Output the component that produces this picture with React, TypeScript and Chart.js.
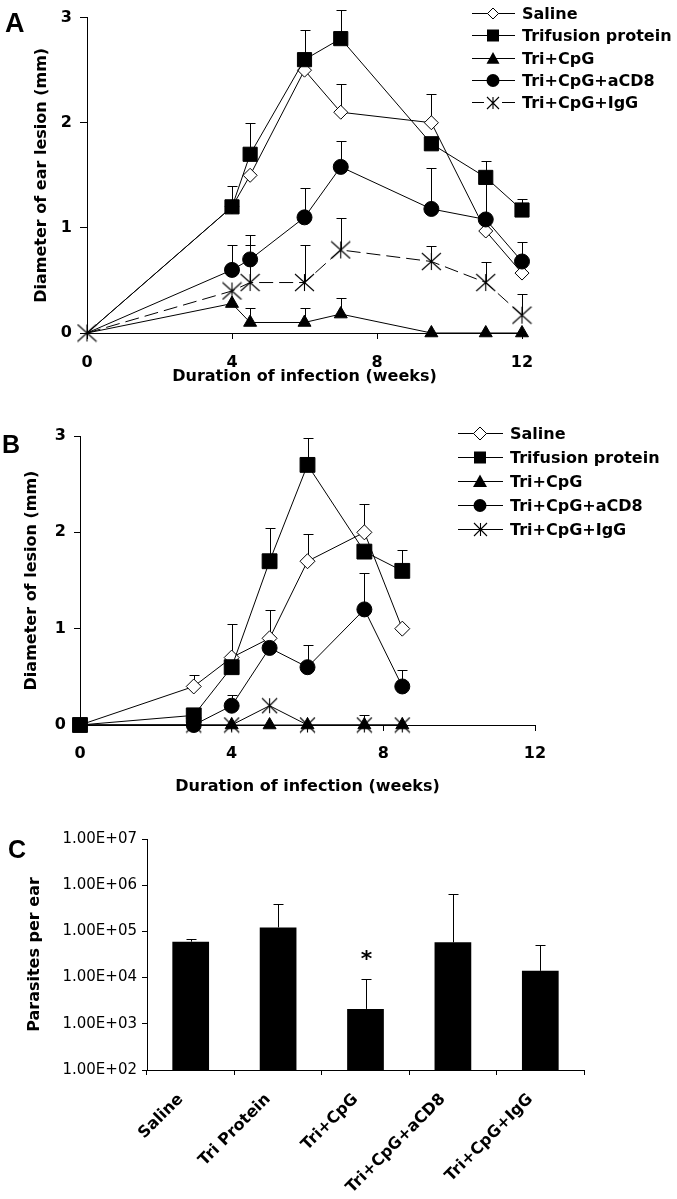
import React, { useEffect, useRef } from 'react';
import { Chart, registerables } from 'chart.js';
Chart.register(...registerables);

const FONT = 'DejaVu Sans';
const LETTER_FONT = 'Liberation Sans';

// ---------- shared ----------
const seriesLabels = ['Saline', 'Trifusion protein', 'Tri+CpG', 'Tri+CpG+aCD8', 'Tri+CpG+IgG'];
const markerKinds = ['diamond', 'square', 'triangle', 'circle', 'asterisk'];

// ---------- Panel A ----------
const aWeeks = [0, 4, 4.5, 6, 7, 9.5, 11, 12];
const aSaline = [0, 1.2, 1.5, 2.5, 2.1, 2.0, 0.97, 0.57];
const aSalineErr = [null, null, null, null, 2.37, 2.27, null, null];
const aTrifusion = [0, 1.2, 1.7, 2.6, 2.8, 1.8, 1.48, 1.17];
const aTrifusionErr = [null, 1.4, 2.0, 2.88, 3.07, null, 1.64, 1.27];
const aCpG = [0, 0.28, 0.1, 0.1, 0.18, 0, 0, 0];
const aCpGErr = [null, null, 0.24, 0.24, 0.33, null, null, null];
const aCD8 = [0, 0.6, 0.7, 1.1, 1.58, 1.18, 1.08, 0.68];
const aCD8Err = [null, 0.84, 0.93, 1.38, 1.83, 1.57, 1.45, 0.87];
const aIgG = [0, 0.4, 0.48, 0.48, 0.79, 0.68, 0.48, 0.17];
const aIgGErr = [null, null, 0.84, 0.84, 1.09, 0.83, 0.68, 0.37];
const aYTitle = 'Diameter of ear lesion (mm)';
const aXTitle = 'Duration of infection (weeks)';

// ---------- Panel B ----------
const bWeeks = [0, 3, 4, 5, 6, 7.5, 8.5];
const bSaline = [0, 0.4, 0.7, 0.9, 1.7, 2.0, 1.0];
const bSalineErr = [null, 0.52, 1.05, 1.19, 1.98, 2.29, null];
const bTrifusion = [0, 0.1, 0.6, 1.7, 2.7, 1.8, 1.6];
const bTrifusionErr = [null, 0.17, null, 2.04, 2.98, null, 1.82];
const bCpG = [0, 0, 0, 0, 0, 0, 0];
const bCpGErr = [null, null, null, null, null, null, null];
const bCD8 = [0, 0, 0.2, 0.8, 0.6, 1.2, 0.4];
const bCD8Err = [null, null, 0.31, null, 0.83, 1.58, 0.57];
const bIgG = [0, 0, 0, 0.2, 0, 0, 0];
const bIgGErr = [null, null, null, null, null, 0.1, null];
const bYTitle = 'Diameter of lesion (mm)';
const bXTitle = 'Duration of infection (weeks)';

// ---------- Panel C ----------
const cCategories = ['Saline', 'Tri Protein', 'Tri+CpG', 'Tri+CpG+aCD8', 'Tri+CpG+IgG'];
const cParasites = [6.0e4, 1.22e5, 2.1e3, 5.8e4, 1.4e4];
const cErrorTop = [6.7e4, 3.9e5, 9.5e3, 6.3e5, 5.2e4];
const cSignificance = ['', '', '*', '', ''];
const cTickValues = [1e2, 1e3, 1e4, 1e5, 1e6, 1e7];
const cTickLabels = ['1.00E+02', '1.00E+03', '1.00E+04', '1.00E+05', '1.00E+06', '1.00E+07'];
const cYTitle = 'Parasites per ear';

const boldFont = (size: number) => ({ family: FONT, size, weight: 'bold' as const });

function makeAsterisk(w: number, h: number): HTMLCanvasElement {
  const c = document.createElement('canvas');
  c.width = Math.ceil(w) + 2;
  c.height = Math.ceil(h) + 2;
  const g = c.getContext('2d')!;
  g.strokeStyle = '#000';
  g.lineWidth = 1.1;
  const mx = c.width / 2, my = c.height / 2;
  g.beginPath();
  g.moveTo(mx - w / 2, my - h / 2); g.lineTo(mx + w / 2, my + h / 2);
  g.moveTo(mx + w / 2, my - h / 2); g.lineTo(mx - w / 2, my + h / 2);
  g.moveTo(mx, my - h / 2); g.lineTo(mx, my + h / 2);
  g.stroke();
  return c;
}

function drawMarker(ctx: CanvasRenderingContext2D, kind: string, x: number, y: number, s: number, img: HTMLCanvasElement) {
  ctx.save();
  ctx.fillStyle = '#000';
  ctx.strokeStyle = '#000';
  ctx.lineWidth = 1;
  ctx.beginPath();
  if (kind === 'diamond') {
    ctx.moveTo(x, y - s); ctx.lineTo(x + s, y); ctx.lineTo(x, y + s); ctx.lineTo(x - s, y); ctx.closePath();
    ctx.fillStyle = '#fff'; ctx.fill(); ctx.stroke();
  } else if (kind === 'square') {
    ctx.rect(x - s, y - s, 2 * s, 2 * s); ctx.fill();
  } else if (kind === 'triangle') {
    ctx.moveTo(x, y - s); ctx.lineTo(x + s, y + s * 0.8); ctx.lineTo(x - s, y + s * 0.8); ctx.closePath(); ctx.fill();
  } else if (kind === 'circle') {
    ctx.arc(x, y, s, 0, Math.PI * 2); ctx.fill();
  } else if (kind === 'asterisk') {
    ctx.drawImage(img, Math.round(x - img.width / 2), Math.round(y - img.height / 2));
  }
  ctx.restore();
}

const pointStyleMap: Record<string, string> = { diamond: 'rectRot', square: 'rect', triangle: 'triangle', circle: 'circle' };

function axisLook(tl: number) {
  return {
    grid: { display: true, drawOnChartArea: false, drawTicks: true, tickLength: tl, color: '#000', tickColor: '#000', lineWidth: 1 },
    border: { display: true, color: '#000', width: 1 },
  };
}

type LineOpts = {
  weeks: number[];
  values: number[][];
  errors: (number | null)[][];
  xTitle: string;
  yTitle: string;
  H: number;
  area: { left: number; top: number; right: number; bottom: number };
  xTick: { len: number; pad: number };
  yTick: { len: number; pad: number };
  yTitlePad: number;
  xTitlePad: number;
  radii: number[];
  dashes: number[][];
  firstVisible: number;
  asterisk: HTMLCanvasElement;
  legendAsterisk: HTMLCanvasElement;
  legend: { x1: number; x2: number; mx: number; tx: number; y0: number; dy: number; sizes: number[]; gapIndex: number };
  letter: { text: string; x: number; y: number; size: number };
};

function errorBarPlugin(id: string) {
  return {
    id,
    beforeDatasetsDraw(chart: any) {
      const ctx = chart.ctx;
      const ys = chart.scales.y;
      chart.data.datasets.forEach((ds: any, i: number) => {
        const errs = ds.errorTop;
        if (!errs) return;
        const meta = chart.getDatasetMeta(i);
        meta.data.forEach((pt: any, j: number) => {
          const e = errs[j];
          if (e === null || e === undefined) return;
          const px = Math.round(pt.x) + 0.5;
          const py = Math.round(ys.getPixelForValue(e)) + 0.5;
          ctx.save();
          ctx.strokeStyle = '#000';
          ctx.lineWidth = 1;
          ctx.beginPath();
          ctx.moveTo(px, pt.y);
          ctx.lineTo(px, py);
          ctx.moveTo(px - 5, py);
          ctx.lineTo(px + 5, py);
          ctx.stroke();
          ctx.restore();
        });
      });
    },
  };
}

function buildLineChart(canvas: HTMLCanvasElement, o: LineOpts) {
  const W = 677;
  const datasets = o.values.map((vals, i) => {
    const kind = markerKinds[i];
    return {
      label: seriesLabels[i],
      data: o.weeks.map((w, j) => ({ x: w, y: vals[j] })),
      errorTop: o.errors[i],
      borderColor: '#000',
      borderWidth: 1,
      borderDash: o.dashes[i],
      pointStyle: kind === 'asterisk' ? o.asterisk : pointStyleMap[kind],
      pointRadius: (c: any) => (c.dataIndex === 0 && o.firstVisible !== i ? 0 : o.radii[i]),
      pointBackgroundColor: kind === 'diamond' ? '#fff' : '#000',
      pointBorderColor: '#000',
      pointBorderWidth: 1,
      tension: 0,
      clip: false as const,
      order: kind === 'diamond' ? 1 : 0,
    };
  });

  const legendPlugin = {
    id: 'customLegend',
    afterDraw(chart: any) {
      const ctx: CanvasRenderingContext2D = chart.ctx;
      const L = o.legend;
      seriesLabels.forEach((label, i) => {
        const y = Math.round(L.y0 + i * L.dy) + 0.5;
        ctx.save();
        ctx.strokeStyle = '#000';
        ctx.lineWidth = 1;
        ctx.beginPath();
        if (i === L.gapIndex) {
          ctx.moveTo(L.x1, y); ctx.lineTo(L.mx - 9, y);
          ctx.moveTo(L.mx + 9, y); ctx.lineTo(L.x2, y);
        } else {
          ctx.moveTo(L.x1, y); ctx.lineTo(L.x2, y);
        }
        ctx.stroke();
        ctx.restore();
        drawMarker(ctx, markerKinds[i], L.mx, y, L.sizes[i], o.legendAsterisk);
        ctx.save();
        ctx.fillStyle = '#000';
        ctx.font = `bold 16px "${FONT}"`;
        ctx.textBaseline = 'middle';
        ctx.textAlign = 'left';
        ctx.fillText(label, L.tx, y + 1);
        ctx.restore();
      });
      ctx.save();
      ctx.fillStyle = '#000';
      ctx.font = `bold ${o.letter.size}px "${LETTER_FONT}"`;
      ctx.textBaseline = 'alphabetic';
      ctx.fillText(o.letter.text, o.letter.x, o.letter.y);
      ctx.restore();
    },
  };

  return new Chart(canvas, {
    type: 'line',
    data: { datasets: datasets as any },
    options: {
      animation: false,
      responsive: false,
      devicePixelRatio: 1,
      events: [],
      layout: { padding: { left: 0, top: o.area.top, right: W - o.area.right, bottom: 0 } },
      plugins: { legend: { display: false }, tooltip: { enabled: false } },
      scales: {
        x: {
          type: 'linear',
          min: 0,
          max: 12,
          ...axisLook(o.xTick.len),
          ticks: { stepSize: 4, color: '#000', font: boldFont(16), padding: o.xTick.pad, maxRotation: 0 },
          title: { display: true, text: o.xTitle, color: '#000', font: boldFont(16), padding: { top: 0, bottom: o.xTitlePad } },
          afterFit: (s: any) => { s.height = o.H - o.area.bottom; },
        },
        y: {
          type: 'linear',
          min: 0,
          max: 3,
          ...axisLook(o.yTick.len),
          ticks: { stepSize: 1, color: '#000', font: boldFont(16), padding: o.yTick.pad },
          title: { display: true, text: o.yTitle, color: '#000', font: boldFont(16), padding: { top: o.yTitlePad, bottom: 0 } },
          afterFit: (s: any) => { s.width = o.area.left; },
        },
      } as any,
    },
    plugins: [errorBarPlugin('errA'), legendPlugin],
  });
}

function buildBarChart(canvas: HTMLCanvasElement) {
  const H = 399;
  const area = { left: 147, top: 39, right: 584, bottom: 270 };
  const extras = {
    id: 'barExtras',
    afterDatasetsDraw(chart: any) {
      const ctx: CanvasRenderingContext2D = chart.ctx;
      const ys = chart.scales.y;
      const meta = chart.getDatasetMeta(0);
      meta.data.forEach((bar: any, i: number) => {
        const px = Math.round(bar.x) + 0.5;
        const py = Math.round(ys.getPixelForValue(cErrorTop[i])) + 0.5;
        ctx.save();
        ctx.strokeStyle = '#000';
        ctx.lineWidth = 1;
        ctx.beginPath();
        ctx.moveTo(px, bar.y);
        ctx.lineTo(px, py);
        ctx.moveTo(px - 5, py);
        ctx.lineTo(px + 5, py);
        ctx.stroke();
        if (cSignificance[i]) {
          ctx.fillStyle = '#000';
          ctx.font = `bold 22px "${FONT}"`;
          ctx.textAlign = 'center';
          ctx.textBaseline = 'middle';
          ctx.fillText(cSignificance[i], px, py - 19);
        }
        ctx.restore();
      });
    },
    afterDraw(chart: any) {
      const ctx: CanvasRenderingContext2D = chart.ctx;
      ctx.save();
      ctx.fillStyle = '#000';
      ctx.font = `bold 25px "${LETTER_FONT}"`;
      ctx.textBaseline = 'alphabetic';
      ctx.fillText('C', 8, 58);
      ctx.restore();
    },
  };
  return new Chart(canvas, {
    type: 'bar',
    data: {
      labels: cCategories,
      datasets: [{ data: cParasites, backgroundColor: '#000', borderWidth: 0, barPercentage: 0.42, categoryPercentage: 1 }],
    },
    options: {
      animation: false,
      responsive: false,
      devicePixelRatio: 1,
      events: [],
      layout: { padding: { left: 0, top: area.top, right: 677 - area.right, bottom: 0 } },
      plugins: { legend: { display: false }, tooltip: { enabled: false } },
      scales: {
        x: {
          type: 'category',
          ...axisLook(5),
          grid: { display: true, drawOnChartArea: false, drawTicks: true, tickLength: 5, color: '#000', tickColor: '#000', lineWidth: 1, offset: true },
          ticks: { color: '#000', font: boldFont(16), maxRotation: 45, minRotation: 45, autoSkip: false, padding: 15, labelOffset: -10 },
          afterFit: (s: any) => { s.height = H - area.bottom; },
        },
        y: {
          type: 'logarithmic',
          min: 100,
          max: 1e7,
          ...axisLook(5),
          afterBuildTicks: (s: any) => { s.ticks = cTickValues.map((v) => ({ value: v })); },
          ticks: {
            color: '#000',
            font: { family: FONT, size: 15 },
            padding: 5,
            autoSkip: false,
            callback: (v: any) => cTickLabels[cTickValues.indexOf(Number(v))] ?? '',
          },
          title: { display: true, text: cYTitle, color: '#000', font: boldFont(16), padding: { top: 25, bottom: 0 } },
          afterFit: (s: any) => { s.width = area.left; },
        },
      } as any,
    },
    plugins: [extras],
  });
}

export default function App() {
  const refA = useRef<HTMLCanvasElement>(null);
  const refB = useRef<HTMLCanvasElement>(null);
  const refC = useRef<HTMLCanvasElement>(null);

  useEffect(() => {
    const astA = makeAsterisk(19, 17);
    const astB = makeAsterisk(15, 15);
    const astLegA = makeAsterisk(12, 12);
    const astLegB = makeAsterisk(13, 13);

    const chartA = buildLineChart(refA.current!, {
      weeks: aWeeks,
      values: [aSaline, aTrifusion, aCpG, aCD8, aIgG],
      errors: [aSalineErr, aTrifusionErr, aCpGErr, aCD8Err, aIgGErr],
      xTitle: aXTitle,
      yTitle: aYTitle,
      H: 390,
      area: { left: 87, top: 12, right: 522, bottom: 333 },
      xTick: { len: 6, pad: 14 },
      yTick: { len: 7, pad: 8 },
      yTitlePad: 32,
      xTitlePad: 4,
      radii: [7, 10, 7.5, 7.5, 9],
      dashes: [[], [], [], [], [14, 6]],
      firstVisible: 4,
      asterisk: astA,
      legendAsterisk: astLegA,
      legend: { x1: 472, x2: 515, mx: 493, tx: 522, y0: 13, dy: 22.3, sizes: [5.5, 6, 6.5, 6.5, 6], gapIndex: 4 },
      letter: { text: 'A', x: 5, y: 32, size: 27 },
    });

    const chartB = buildLineChart(refB.current!, {
      weeks: bWeeks,
      values: [bSaline, bTrifusion, bCpG, bCD8, bIgG],
      errors: [bSalineErr, bTrifusionErr, bCpGErr, bCD8Err, bIgGErr],
      xTitle: bXTitle,
      yTitle: bYTitle,
      H: 410,
      area: { left: 80, top: 46, right: 535, bottom: 335 },
      xTick: { len: 6, pad: 13 },
      yTick: { len: 6, pad: 8 },
      yTitlePad: 22,
      xTitlePad: 4,
      radii: [7.5, 10.5, 7.5, 7.5, 8],
      dashes: [[], [], [], [], []],
      firstVisible: 1,
      asterisk: astB,
      legendAsterisk: astLegB,
      legend: { x1: 458, x2: 503, mx: 480, tx: 510, y0: 43, dy: 24, sizes: [6.5, 6, 7, 6.5, 6], gapIndex: -1 },
      letter: { text: 'B', x: 2, y: 63, size: 25 },
    });

    const chartC = buildBarChart(refC.current!);

    return () => {
      chartA.destroy();
      chartB.destroy();
      chartC.destroy();
    };
  }, []);

  return (
    <div style={{ position: 'absolute', left: 0, top: 0, width: 677, height: 1199, background: '#fff', overflow: 'hidden' }}>
      <canvas ref={refA} width={677} height={390} style={{ position: 'absolute', left: 0, top: 0 }} />
      <canvas ref={refB} width={677} height={410} style={{ position: 'absolute', left: 0, top: 390 }} />
      <canvas ref={refC} width={677} height={399} style={{ position: 'absolute', left: 0, top: 800 }} />
    </div>
  );
}
